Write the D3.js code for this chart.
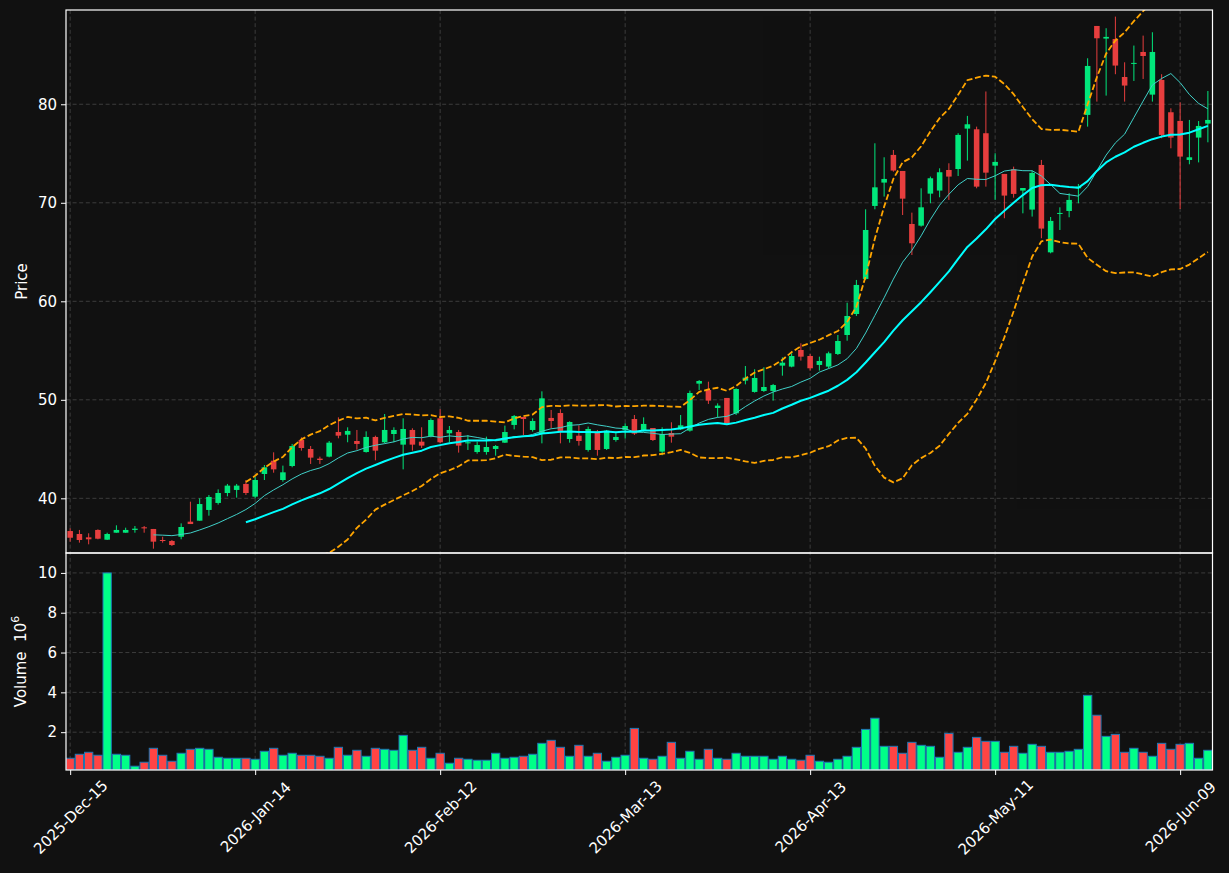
<!DOCTYPE html>
<html>
<head>
<meta charset="utf-8">
<script src="https://cdnjs.cloudflare.com/ajax/libs/d3/7.8.5/d3.min.js"></script>
<style>
  body { margin: 0; background: #111111; }
  svg text { font-family: "DejaVu Sans", sans-serif; fill: #ffffff; }
</style>
</head>
<body>
<svg id="chart" width="1229" height="873"></svg>
<script>
// OHLC, one entry per trading day (index 0 = 2025-Dec-15)
var opens = [36.68,36.38,36.04,36.79,35.80,36.51,36.51,36.79,37.06,36.89,35.77,35.67,36.10,37.63,37.73,38.82,39.53,40.54,40.85,41.46,
  40.17,42.47,43.82,41.86,43.28,45.92,45.01,44.03,44.23,46.73,46.46,45.82,44.70,46.23,45.69,46.53,45.45,46.94,45.75,46.33,
  48.12,46.60,46.73,45.58,44.70,44.70,45.01,45.65,47.45,48.26,46.94,46.53,48.16,48.66,46.02,46.36,44.91,46.77,45.01,45.92,
  46.94,48.05,46.94,47.14,44.74,46.63,47.00,46.87,51.64,51.00,49.17,50.19,48.63,51.95,50.80,50.90,50.90,53.47,53.37,55.06,
  54.45,53.54,53.37,54.65,56.58,58.71,62.27,69.68,72.05,74.86,73.23,67.85,67.68,70.93,71.24,73.33,73.43,77.53,77.46,77.06,
  73.77,72.93,73.40,71.24,69.31,73.84,64.97,68.87,69.17,71.47,78.92,87.95,86.67,86.63,82.77,84.10,85.31,80.98,82.47,79.19,
  78.31,74.35,76.62,78.04];
var highs = [36.95,36.79,36.45,36.85,36.51,37.26,37.02,37.19,37.19,36.89,36.10,35.77,37.46,39.66,40.00,40.34,40.91,41.46,41.46,41.86,
  42.20,43.38,44.67,43.32,45.52,46.19,45.31,44.23,45.82,48.22,47.21,46.94,46.80,46.36,48.56,47.21,48.12,47.11,47.21,48.12,
  49.04,47.34,46.94,46.43,45.75,46.26,45.41,47.38,48.46,48.26,48.12,50.86,48.97,49.04,47.82,47.41,47.28,46.94,46.94,46.77,
  47.61,48.46,48.22,47.14,47.21,47.72,48.46,50.93,52.01,51.84,49.64,50.19,51.17,53.43,53.10,53.30,51.61,54.31,54.72,55.74,
  54.65,54.38,54.89,56.58,59.86,62.17,69.34,76.04,74.62,75.36,73.23,69.00,71.47,72.66,73.50,74.01,77.06,78.82,77.73,81.30,
  75.03,72.93,73.67,71.50,73.27,74.35,68.56,69.54,70.96,71.91,84.67,87.95,87.72,88.90,84.26,85.96,86.97,87.31,83.05,79.59,
  80.20,78.41,78.30,81.35];
var lows = [35.60,35.50,35.33,35.84,35.77,36.51,36.51,36.51,36.51,34.89,35.50,35.16,35.84,37.39,37.73,38.24,39.36,40.20,40.07,40.34,
  40.00,41.86,42.60,41.69,43.15,44.84,43.49,43.49,44.16,46.09,45.69,44.94,44.64,43.86,45.58,45.69,42.94,44.84,45.11,46.19,
  45.58,45.69,44.64,44.91,44.53,44.43,44.33,45.62,47.00,46.43,46.77,45.58,47.11,45.58,45.65,45.35,44.74,44.33,44.91,45.75,
  46.06,46.43,46.77,45.82,44.37,45.65,46.94,46.77,51.00,49.58,48.22,47.45,48.46,51.57,50.73,50.80,49.92,52.45,53.30,53.98,
  52.96,52.96,53.20,54.55,56.00,58.51,62.17,69.34,70.63,73.16,68.76,64.70,67.58,69.95,70.56,70.29,72.72,74.28,71.47,71.64,
  70.29,68.43,70.52,68.93,68.60,66.40,64.87,67.24,68.53,69.95,77.73,80.27,80.88,83.05,80.27,82.37,82.57,80.27,76.55,75.53,
  69.37,73.91,74.10,76.14];
var closes = [36.00,35.77,35.84,35.90,36.38,36.79,36.79,36.92,36.95,35.60,35.67,35.26,37.09,37.39,39.42,40.14,40.54,41.29,41.29,40.54,
  41.86,43.15,42.94,42.64,45.31,45.11,44.13,43.89,45.65,46.36,46.84,45.52,46.23,44.84,46.94,46.94,47.04,45.45,45.35,47.95,
  45.69,46.94,45.35,45.69,45.41,45.21,45.31,46.73,48.36,48.05,47.85,50.15,47.85,46.84,47.75,45.82,47.04,44.91,46.87,46.23,
  47.34,46.57,47.55,45.92,46.53,46.26,47.41,50.69,51.91,49.92,49.41,47.61,51.10,52.25,52.22,51.30,51.50,53.77,54.45,54.38,
  53.20,53.94,54.72,55.97,58.51,61.66,67.24,71.57,72.42,73.27,70.42,65.89,69.54,72.49,73.10,72.66,76.89,77.97,71.64,73.06,
  74.15,70.73,70.90,71.50,73.03,67.38,68.16,68.97,70.29,71.64,83.89,86.70,86.84,83.93,81.90,84.20,84.90,85.31,76.89,76.62,
  74.69,74.62,77.80,78.41];
// volume in millions
var volumes = [0.69,0.89,0.99,0.84,10.0,0.89,0.84,0.29,0.49,1.19,0.84,0.54,0.94,1.14,1.19,1.14,0.74,0.69,0.69,0.69,
  0.64,1.04,1.19,0.84,0.94,0.84,0.84,0.79,0.69,1.24,0.84,1.09,0.79,1.19,1.14,1.09,1.84,1.09,1.24,0.69,
  0.94,0.44,0.69,0.64,0.59,0.59,0.94,0.69,0.74,0.79,0.89,1.44,1.59,1.24,0.79,1.34,0.79,0.94,0.54,0.74,
  0.84,2.19,0.69,0.64,0.79,1.49,0.69,1.04,0.64,1.14,0.69,0.64,0.94,0.79,0.79,0.79,0.64,0.79,0.64,0.59,
  0.84,0.54,0.49,0.64,0.79,1.24,2.14,2.70,1.29,1.29,0.94,1.49,1.34,1.29,0.74,1.94,0.99,1.24,1.74,1.54,
  1.54,0.99,1.29,0.94,1.39,1.29,0.99,0.99,1.04,1.14,3.85,2.85,1.79,1.89,0.99,1.19,0.99,0.79,1.44,1.14,
  1.39,1.44,0.69,1.09];

var tickIdx = [0, 20, 40, 60, 80, 100, 120];
var tickLabels = ["2025-Dec-15", "2026-Jan-14", "2026-Feb-12", "2026-Mar-13", "2026-Apr-13", "2026-May-11", "2026-Jun-09"];
var priceTicks = [40, 50, 60, 70, 80];
var volTicks = [2, 4, 6, 8, 10];

var upColor = "#00ff88", downColor = "#ff4444";
var fontSize = 15;

var svg = d3.select("#chart");
var left = 66, right = 1212.5, pTop = 10, pBottom = 553, vBottom = 770;

var x = d3.scaleLinear().domain([-0.45, 123.5]).range([left, right]);
var step = x(1) - x(0);
var yP = d3.scaleLinear().domain([34.45, 89.57]).range([pBottom, pTop]);
var yV = d3.scaleLinear().domain([0.1, 11.0]).range([vBottom, pBottom]);

// rolling helpers
function sma(arr, n) {
  return arr.map(function(v, i) { return i < n - 1 ? null : d3.mean(arr.slice(i - n + 1, i + 1)); });
}
function bollinger(arr, n, k) {
  var mid = sma(arr, n);
  return arr.map(function(v, i) {
    if (mid[i] == null) return null;
    var w = arr.slice(i - n + 1, i + 1);
    var sd = Math.sqrt(d3.mean(w, function(d) { return (d - mid[i]) * (d - mid[i]); }));
    return [mid[i] + k * sd, mid[i] - k * sd];
  });
}
var ma10 = sma(closes, 10), ma20 = sma(closes, 20), bb = bollinger(closes, 20, 2);

var defs = svg.append("defs");
defs.append("clipPath").attr("id", "clipP").append("rect")
  .attr("x", left).attr("y", pTop).attr("width", right - left).attr("height", pBottom - pTop);
defs.append("clipPath").attr("id", "clipV").append("rect")
  .attr("x", left).attr("y", pBottom).attr("width", right - left).attr("height", vBottom - pBottom);

// grid
var grid = svg.append("g").attr("stroke", "#3c3c3c").attr("stroke-width", 1).attr("stroke-dasharray", "4,2.6");
tickIdx.forEach(function(t) {
  grid.append("line").attr("x1", x(t)).attr("x2", x(t)).attr("y1", pTop).attr("y2", vBottom);
});
priceTicks.forEach(function(t) {
  grid.append("line").attr("x1", left).attr("x2", right).attr("y1", yP(t)).attr("y2", yP(t));
});
volTicks.forEach(function(t) {
  grid.append("line").attr("x1", left).attr("x2", right).attr("y1", yV(t)).attr("y2", yV(t));
});

// candles
var idx = d3.range(closes.length);
var cg = svg.append("g").attr("clip-path", "url(#clipP)").attr("opacity", 0.9);
cg.selectAll("line.wick").data(idx).enter().append("line")
  .attr("x1", function(i) { return x(i); }).attr("x2", function(i) { return x(i); })
  .attr("y1", function(i) { return yP(highs[i]); }).attr("y2", function(i) { return yP(lows[i]); })
  .attr("stroke", function(i) { return closes[i] >= opens[i] ? upColor : downColor; })
  .attr("stroke-width", 1);
cg.selectAll("rect.body").data(idx).enter().append("rect")
  .attr("x", function(i) { return x(i) - step * 0.3; })
  .attr("width", step * 0.6)
  .attr("y", function(i) { return yP(Math.max(opens[i], closes[i])); })
  .attr("height", function(i) { return Math.max(1, Math.abs(yP(opens[i]) - yP(closes[i]))); })
  .attr("fill", function(i) { return closes[i] >= opens[i] ? upColor : downColor; });

// indicator lines
var lg = svg.append("g").attr("clip-path", "url(#clipP)").attr("fill", "none");
function drawLine(vals, stroke, width, dash) {
  var line = d3.line()
    .defined(function(d) { return d != null; })
    .x(function(d, i) { return x(i); })
    .y(function(d) { return yP(d); });
  var p = lg.append("path").datum(vals).attr("d", line)
    .attr("stroke", stroke).attr("stroke-width", width).attr("stroke-linejoin", "round");
  if (dash) p.attr("stroke-dasharray", dash);
}
drawLine(bb.map(function(d) { return d ? d[0] : null; }), "#ffa500", 1.8, "6,2.6");
drawLine(bb.map(function(d) { return d ? d[1] : null; }), "#ffa500", 1.8, "6,2.6");
drawLine(ma10, "#40d0c8", 1, null);
drawLine(ma20, "#00ffff", 2, null);

// volume
svg.append("g").attr("clip-path", "url(#clipV)").selectAll("rect").data(idx).enter().append("rect")
  .attr("x", function(i) { return x(i) - step * 0.45; })
  .attr("width", step * 0.9)
  .attr("y", function(i) { return yV(volumes[i]); })
  .attr("height", function(i) { return yV(0.1) - yV(volumes[i]); })
  .attr("fill", function(i) { return closes[i] >= opens[i] ? upColor : downColor; })
  .attr("stroke", "#1f77b4").attr("stroke-width", 1);

// frames
var frame = svg.append("g").attr("fill", "none").attr("stroke", "#ffffff").attr("stroke-width", 1.2);
frame.append("rect").attr("x", left).attr("y", pTop).attr("width", right - left).attr("height", pBottom - pTop);
frame.append("rect").attr("x", left).attr("y", pBottom).attr("width", right - left).attr("height", vBottom - pBottom);

// axes
var axP = svg.append("g").attr("transform", "translate(" + left + ",0)")
  .call(d3.axisLeft(yP).tickValues(priceTicks).tickSize(5).tickPadding(4));
var axV = svg.append("g").attr("transform", "translate(" + left + ",0)")
  .call(d3.axisLeft(yV).tickValues(volTicks).tickSize(5).tickPadding(4));
var axX = svg.append("g").attr("transform", "translate(0," + vBottom + ")")
  .call(d3.axisBottom(x).tickValues(tickIdx).tickFormat(function(d, i) { return tickLabels[i]; }).tickSize(5));
[axP, axV, axX].forEach(function(a) {
  a.select(".domain").remove();
  a.selectAll(".tick line").attr("stroke", "#ffffff");
  a.selectAll("text").attr("font-size", fontSize).attr("fill", "#ffffff").attr("font-family", "DejaVu Sans");
});
// rotated labels centred under the tick, like matplotlib rotation=45, ha=center
axX.selectAll("text")
  .attr("text-anchor", "middle")
  .attr("dy", "0.35em")
  .attr("y", 0)
  .attr("transform", "translate(0,47) rotate(-45)");

// axis titles
svg.append("text").attr("transform", "translate(27," + (pTop + pBottom) / 2 + ") rotate(-90)")
  .attr("text-anchor", "middle").attr("font-size", fontSize).text("Price");
var vt = svg.append("text").attr("transform", "translate(26," + (pBottom + vBottom) / 2 + ") rotate(-90)")
  .attr("text-anchor", "middle").attr("font-size", fontSize).attr("xml:space", "preserve");
vt.append("tspan").text("Volume  10");
vt.append("tspan").attr("font-size", 11).attr("dy", -7).text("6");
</script>
</body>
</html>
